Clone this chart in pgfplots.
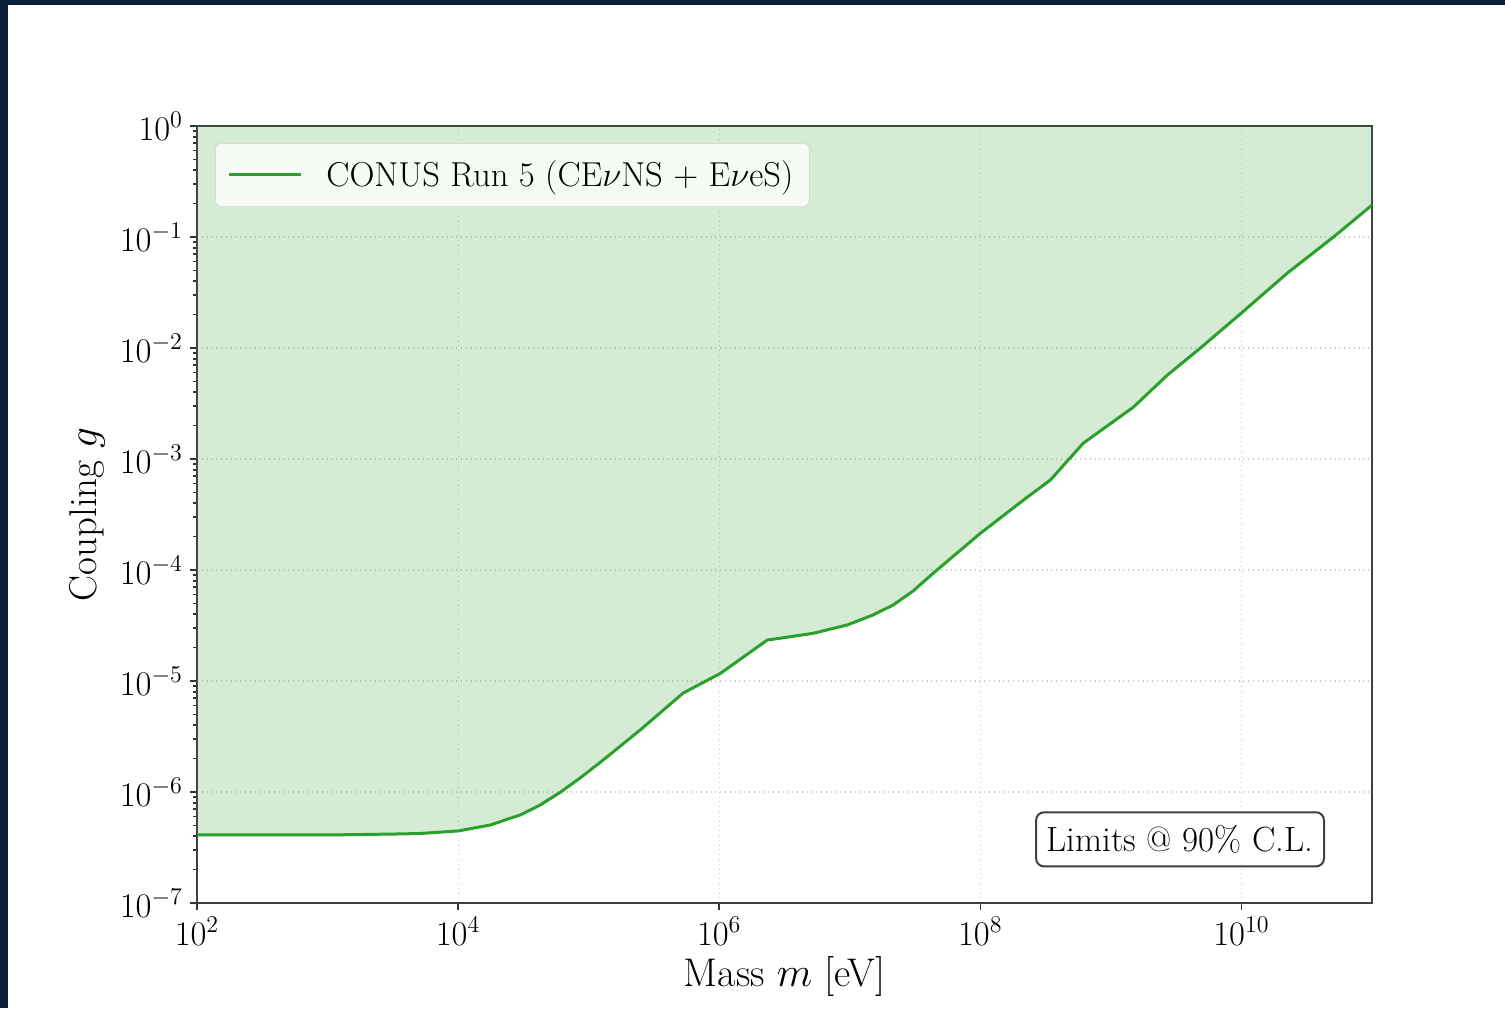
\documentclass[border=0pt]{standalone}
\usepackage{fontspec}
\usepackage{pgfplots}
\pgfplotsset{compat=1.18}
\definecolor{tabgreen}{HTML}{2CA02C}
\definecolor{navyedge}{HTML}{0B1F3A}
\pgfplotstableread{
m g
1e2 4.10e-7
1e3 4.10e-7
3.6e3 4.19e-7
5.12e3 4.23e-7
1e4 4.46e-7
1.76e4 5.04e-7
2.99e4 6.21e-7
4.25e4 7.64e-7
6.05e4 9.93e-7
8.61e4 1.34e-6
1.29e5 1.94e-6
2.48e5 3.62e-6
5.30e5 7.80e-6
1.02e6 1.17e-5
2.33e6 2.34e-5
2.93e6 2.43e-5
5.25e6 2.69e-5
9.57e6 3.20e-5
1.51e7 3.94e-5
2.15e7 4.84e-5
3.07e7 6.50e-5
4.37e7 9.40e-5
1e8 2.14e-4
2.14e8 4.27e-4
3.44e8 6.47e-4
6.15e8 1.39e-3
1.49e9 2.94e-3
2.71e9 5.71e-3
4.85e9 1.0e-2
1.02e10 2.11e-2
2.25e10 4.74e-2
5.07e10 0.1
1e11 0.194
}\limdata
\begin{document}
\begin{tikzpicture}
\fill[navyedge] (-98.5pt,-52.5pt) rectangle (654pt,451.5pt);
\fill[white] (-94.5pt,-52.5pt) rectangle (654pt,449pt);
\begin{axis}[
  at={(0,0)}, anchor=south west, scale only axis,
  width=587.5pt, height=388.5pt,
  xmode=log, ymode=log,
  xmin=1e2, xmax=1e11, ymin=1e-7, ymax=1,
  xtick={1e2,1e4,1e6,1e8,1e10},
  ytick={1e-7,1e-6,1e-5,1e-4,1e-3,1e-2,1e-1,1},
  xminorticks=false,
  tick align=outside, tick pos=left,
  major tick length=3.5pt, minor tick length=2pt,
  tick style={black!80, line width=0.8pt},
  axis line style={black!75, line width=1pt},
  grid=major, major grid style={dotted, gray!45, line width=0.6pt},
  tick label style={font=\fontsize{17}{20}\selectfont},
  xlabel={Mass $m$ [eV]}, ylabel={Coupling $g$},
  xlabel style={at={(axis description cs:0.5,-0.094)}, anchor=center,
    font=\fontsize{20}{23}\selectfont},
  ylabel style={at={(axis description cs:-0.0936,0.5)}, anchor=center,
    font=\fontsize{19.4}{22}\selectfont},
  legend style={at={(0,1)}, anchor=north west, xshift=9pt, yshift=-8.5pt,
    draw=black!15, rounded corners=3pt, fill=white, fill opacity=0.8,
    text opacity=1, inner xsep=6pt, inner ysep=6.5pt,
    font=\fontsize{17.3}{20}\selectfont},
  legend image code/.code={\draw[#1] (0pt,0pt) -- (36pt,0pt); \path (46pt,0pt);},
  legend cell align=left,
]
\addplot[fill=tabgreen, fill opacity=0.2, draw=none, forget plot]
  table[x=m, y=g] {\limdata} -- (axis cs:1e11,1) -- (axis cs:1e2,1) -- cycle;
\addplot[tabgreen, line width=1.5pt, line join=round] table[x=m, y=g] {\limdata};
\addlegendentry{CONUS Run 5 (CE$\nu$NS + E$\nu$eS)}
\node[draw=black!75, line width=1pt, rounded corners=4pt, fill=white,
  inner xsep=5.3pt, inner ysep=6.5pt, anchor=south east,
  xshift=-23.5pt, yshift=17.8pt, font=\fontsize{17.5}{20}\selectfont]
  at (rel axis cs:1,0) {Limits @ 90\% C.L.};
\end{axis}
\end{tikzpicture}
\end{document}
